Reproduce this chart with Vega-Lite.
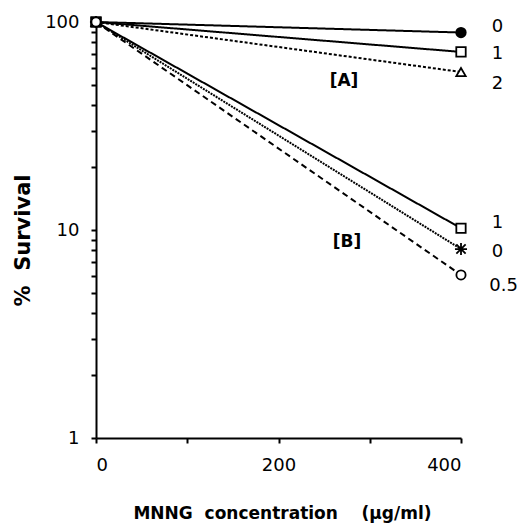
{
  "$schema": "https://vega.github.io/schema/vega-lite/v6.json",
  "width": 365,
  "height": 416,
  "autosize": {"type": "none"},
  "padding": {"left": 96, "top": 22, "right": 69, "bottom": 87},
  "background": "white",
  "config": {
    "view": {"stroke": null},
    "font": "DejaVu Sans",
    "axis": {
      "grid": false,
      "domainColor": "black",
      "domainWidth": 2,
      "tickColor": "black",
      "tickWidth": 2,
      "tickSize": 5,
      "labelFont": "DejaVu Sans",
      "labelFontSize": 18,
      "labelColor": "black",
      "labelOverlap": false,
      "titleFont": "DejaVu Sans",
      "titleFontWeight": "bold",
      "titleColor": "black"
    }
  },
  "datasets": {
    "curves": [
      {"series": "A0", "conc": 0, "survival": 100},
      {"series": "A0", "conc": 400, "survival": 89.0},
      {"series": "A1", "conc": 0, "survival": 100},
      {"series": "A1", "conc": 400, "survival": 71.8},
      {"series": "A2", "conc": 0, "survival": 100},
      {"series": "A2", "conc": 400, "survival": 57.5},
      {"series": "B1", "conc": 0, "survival": 100},
      {"series": "B1", "conc": 400, "survival": 10.2},
      {"series": "B0", "conc": 0, "survival": 100},
      {"series": "B0", "conc": 400, "survival": 8.1},
      {"series": "B05", "conc": 0, "survival": 100},
      {"series": "B05", "conc": 400, "survival": 6.08}
    ],
    "doses": [
      {"conc": 440, "survival": 94.6, "text": "0"},
      {"conc": 440, "survival": 70.2, "text": "1"},
      {"conc": 440, "survival": 50.4, "text": "2"},
      {"conc": 440, "survival": 10.8, "text": "1"},
      {"conc": 440, "survival": 7.83, "text": "0"},
      {"conc": 446.6, "survival": 5.38, "text": "0.5"}
    ],
    "groups": [
      {"conc": 271.8, "survival": 52.0, "text": "[A]"},
      {"conc": 275, "survival": 8.75, "text": "[B]"}
    ]
  },
  "layer": [
    {
      "data": {"name": "curves"},
      "mark": {"type": "line", "color": "black", "strokeWidth": 2},
      "encoding": {
        "x": {
          "field": "conc",
          "type": "quantitative",
          "scale": {"domain": [0, 400], "nice": false, "zero": false},
          "axis": {
            "values": [0, 100, 200, 300, 400],
            "labelExpr": "datum.value % 200 == 0 ? format(datum.value, 'd') : ''",
            "labelPadding": 13,
            "title": "MNNG\u00a0\u00a0concentration\u00a0\u00a0\u00a0\u00a0(μg/ml)",
            "titleFontSize": 17,
            "titleBaseline": "middle",
            "titleX": 186,
            "titleY": 75
          }
        },
        "y": {
          "field": "survival",
          "type": "quantitative",
          "scale": {"type": "log", "domain": [1, 100], "nice": false},
          "axis": {
            "values": [1, 2, 3, 4, 5, 6, 7, 8, 9, 10, 20, 30, 40, 50, 60, 70, 80, 90, 100],
            "labelExpr": "indexof([1, 10, 100], datum.value) >= 0 ? format(datum.value, 'd') : ''",
            "labelPadding": 12,
            "title": "%\u00a0\u00a0Survival",
            "titleFontSize": 21,
            "titleBaseline": "middle",
            "titleAngle": -90,
            "titleX": -73,
            "titleY": 218
          }
        },
        "detail": {"field": "series"},
        "strokeDash": {
          "field": "series",
          "type": "nominal",
          "scale": {
            "domain": ["A0", "A1", "A2", "B1", "B0", "B05"],
            "range": [[1, 0], [1, 0], [3, 2], [1, 0], [2, 1], [6, 4]]
          },
          "legend": null
        }
      }
    },
    {
      "data": {"name": "curves"},
      "transform": [{"filter": "datum.conc == 400 || datum.series != 'A0'"}],
      "mark": {"type": "point", "filled": true, "stroke": "black", "strokeWidth": 1.8, "opacity": 1},
      "encoding": {
        "x": {"field": "conc", "type": "quantitative"},
        "y": {"field": "survival", "type": "quantitative"},
        "shape": {
          "field": "series",
          "type": "nominal",
          "scale": {
            "domain": ["A0", "A1", "A2", "B1", "B0", "B05"],
            "range": ["circle", "square", "triangle-up", "square", "M-1,-1L1,1M1,-1L-1,1M0,-1.3L0,1.3M-1.3,0L1.3,0", "circle"]
          },
          "legend": null
        },
        "size": {
          "field": "series",
          "type": "nominal",
          "scale": {
            "domain": ["A0", "A1", "A2", "B1", "B0", "B05"],
            "range": [90, 85, 110, 80, 55, 55]
          },
          "legend": null
        },
        "fill": {
          "field": "series",
          "type": "nominal",
          "scale": {
            "domain": ["A0", "A1", "A2", "B1", "B0", "B05"],
            "range": ["black", "white", "white", "white", "white", "white"]
          },
          "legend": null
        }
      }
    },
    {
      "data": {"name": "doses"},
      "mark": {"type": "text", "align": "center", "baseline": "middle", "color": "black", "clip": false, "fontSize": 18, "font": "DejaVu Sans"},
      "encoding": {
        "x": {"field": "conc", "type": "quantitative"},
        "y": {"field": "survival", "type": "quantitative"},
        "text": {"field": "text"}
      }
    },
    {
      "data": {"name": "groups"},
      "mark": {"type": "text", "align": "center", "baseline": "middle", "color": "black", "clip": false, "fontSize": 17, "fontWeight": "bold", "font": "DejaVu Sans"},
      "encoding": {
        "x": {"field": "conc", "type": "quantitative"},
        "y": {"field": "survival", "type": "quantitative"},
        "text": {"field": "text"}
      }
    }
  ]
}
